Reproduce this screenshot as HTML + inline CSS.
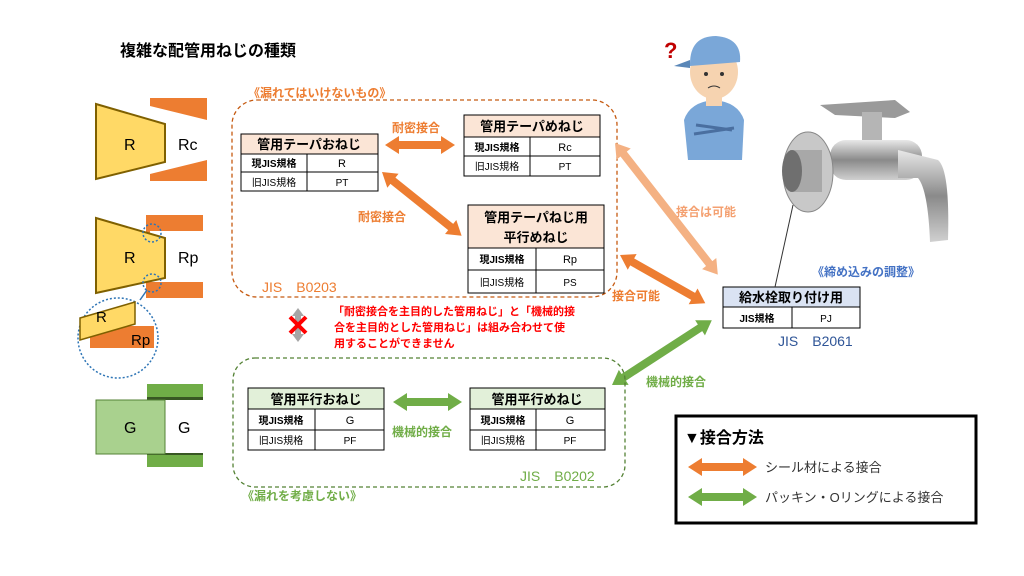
<!DOCTYPE html>
<html><head><meta charset="utf-8"><style>
body{margin:0;background:#fff;}
svg{display:block;font-family:"Liberation Sans","Noto Sans CJK JP",sans-serif;}
</style></head><body>
<svg width="1024" height="576" viewBox="0 0 1024 576" xmlns="http://www.w3.org/2000/svg">
<defs>
<polygon id="da" points="0,0 14,-9 14,-4 0,-4 0,4 14,4 14,9"/>
<linearGradient id="metal" x1="0" y1="0" x2="0" y2="1"><stop offset="0" stop-color="#e8e8e8"/><stop offset="0.5" stop-color="#8a8a8a"/><stop offset="1" stop-color="#d0d0d0"/></linearGradient>
</defs>
<rect width="1024" height="576" fill="#fff"/>
<text x="120" y="56" font-size="16" font-weight="bold" fill="#000">複雑な配管用ねじの種類</text>

<!-- Left: R / Rc -->
<rect x="150" y="98" width="57" height="83" fill="#ED7D31"/>
<polygon points="150,106 207,120 207,160 150,174" fill="#fff"/>
<polygon points="96,104 165,124 165,162 96,179" fill="#FFD966" stroke="#7F6000" stroke-width="2"/>
<text x="124" y="150" font-size="16">R</text>
<text x="178" y="150" font-size="16">Rc</text>
<!-- R / Rp -->
<rect x="146" y="215" width="57" height="83" fill="#ED7D31"/>
<rect x="150" y="231" width="53" height="51" fill="#fff"/>
<polygon points="96,218 165,238 165,278 96,293" fill="#FFD966" stroke="#7F6000" stroke-width="2"/>
<text x="124" y="263" font-size="16">R</text>
<text x="178" y="263" font-size="16">Rp</text>
<circle cx="152" cy="233" r="9" fill="none" stroke="#2E75B6" stroke-width="1.5" stroke-dasharray="2,2"/>
<circle cx="152" cy="283" r="9" fill="none" stroke="#2E75B6" stroke-width="1.5" stroke-dasharray="2,2"/>
<line x1="147" y1="290" x2="140" y2="300" stroke="#2E75B6" stroke-width="1.5"/>
<circle cx="118" cy="338" r="40" fill="#fff" stroke="#2E75B6" stroke-width="1.5" stroke-dasharray="2,2"/>
<rect x="90" y="326" width="64" height="22" fill="#ED7D31"/>
<polygon points="80,318 135,302 135,324 80,340" fill="#FFD966" stroke="#7F6000" stroke-width="1.5"/>
<text x="96" y="322" font-size="15">R</text>
<text x="131" y="345" font-size="15">Rp</text>
<!-- G -->
<rect x="147" y="384" width="56" height="83" fill="#70AD47"/>
<rect x="147" y="397" width="56" height="58" fill="#385723"/>
<rect x="165" y="400" width="38" height="53" fill="#fff"/>
<rect x="96" y="400" width="69" height="54" fill="#A9D18E" stroke="#548235" stroke-width="1"/>
<text x="124" y="433" font-size="16">G</text>
<text x="178" y="433" font-size="16">G</text>

<!-- Orange dashed box -->
<rect x="232" y="100" width="385" height="197" rx="25" fill="none" stroke="#C55A11" stroke-width="1.3" stroke-dasharray="4,3"/>
<text x="248" y="97" font-size="12" font-weight="bold" fill="#ED7D31">《漏れてはいけないもの》</text>
<text x="262" y="292" font-size="14" fill="#ED7D31">JIS　B0203</text>

<!-- table1 -->
<g font-size="11" text-anchor="middle">
<rect x="241" y="134" width="137" height="20" fill="#FBE5D6" stroke="#000"/>
<text x="309" y="149" font-size="13" font-weight="bold">管用テーパおねじ</text>
<rect x="241" y="154" width="137" height="37" fill="#fff" stroke="#000"/>
<line x1="241" y1="172" x2="378" y2="172" stroke="#000"/><line x1="307" y1="154" x2="307" y2="191" stroke="#000"/>
<text x="274" y="167" font-weight="bold" font-size="10">現JIS規格</text><text x="342" y="167">R</text>
<text x="274" y="186" font-size="10">旧JIS規格</text><text x="342" y="186" font-size="10">PT</text>

<rect x="464" y="115" width="136" height="22" fill="#FBE5D6" stroke="#000"/>
<text x="532" y="131" font-size="13" font-weight="bold">管用テーパめねじ</text>
<rect x="464" y="137" width="136" height="39" fill="#fff" stroke="#000"/>
<line x1="464" y1="156" x2="600" y2="156" stroke="#000"/><line x1="530" y1="137" x2="530" y2="176" stroke="#000"/>
<text x="497" y="151" font-weight="bold" font-size="10">現JIS規格</text><text x="565" y="151">Rc</text>
<text x="497" y="170" font-size="10">旧JIS規格</text><text x="565" y="170" font-size="10">PT</text>

<rect x="468" y="205" width="136" height="43" fill="#FBE5D6" stroke="#000"/>
<text x="536" y="222" font-size="13" font-weight="bold">管用テーパねじ用</text>
<text x="536" y="242" font-size="13" font-weight="bold">平行めねじ</text>
<rect x="468" y="248" width="136" height="45" fill="#fff" stroke="#000"/>
<line x1="468" y1="270" x2="604" y2="270" stroke="#000"/><line x1="536" y1="248" x2="536" y2="293" stroke="#000"/>
<text x="502" y="263" font-weight="bold" font-size="10">現JIS規格</text><text x="570" y="263">Rp</text>
<text x="502" y="286" font-size="10">旧JIS規格</text><text x="570" y="286" font-size="10">PS</text>

<!-- green tables -->
<rect x="248" y="388" width="136" height="21" fill="#E2F0D9" stroke="#000"/>
<text x="316" y="404" font-size="13" font-weight="bold">管用平行おねじ</text>
<rect x="248" y="409" width="136" height="41" fill="#fff" stroke="#000"/>
<line x1="248" y1="430" x2="384" y2="430" stroke="#000"/><line x1="315" y1="409" x2="315" y2="450" stroke="#000"/>
<text x="281" y="424" font-weight="bold" font-size="10">現JIS規格</text><text x="350" y="424">G</text>
<text x="281" y="444" font-size="10">旧JIS規格</text><text x="350" y="444" font-size="10">PF</text>

<rect x="470" y="388" width="135" height="21" fill="#E2F0D9" stroke="#000"/>
<text x="537" y="404" font-size="13" font-weight="bold">管用平行めねじ</text>
<rect x="470" y="409" width="135" height="41" fill="#fff" stroke="#000"/>
<line x1="470" y1="430" x2="605" y2="430" stroke="#000"/><line x1="536" y1="409" x2="536" y2="450" stroke="#000"/>
<text x="503" y="424" font-weight="bold" font-size="10">現JIS規格</text><text x="570" y="424">G</text>
<text x="503" y="444" font-size="10">旧JIS規格</text><text x="570" y="444" font-size="10">PF</text>

<rect x="723" y="287" width="137" height="20" fill="#DAE3F3" stroke="#000"/>
<text x="791" y="302" font-size="13" font-weight="bold">給水栓取り付け用</text>
<rect x="723" y="307" width="137" height="21" fill="#fff" stroke="#000"/>
<line x1="792" y1="307" x2="792" y2="328" stroke="#000"/>
<text x="757" y="322" font-size="10" font-weight="bold">JIS規格</text><text x="826" y="322" font-size="10">PJ</text>
</g>

<!-- arrows -->
<g fill="#ED7D31">
<polygon transform="translate(385,145)" points="0,0 14,-9 14,-4 56,-4 56,-9 70,0 56,9 56,4 14,4 14,9"/>
<polygon transform="translate(382,172) rotate(38.7)" points="0,0 14,-9 14,-4 88,-4 88,-9 102,0 88,9 88,4 14,4 14,9"/>
<polygon transform="translate(620,255) rotate(29.5)" points="0,0 14,-9 14,-4 84,-4 84,-9 98,0 84,9 84,4 14,4 14,9"/>
</g>
<polygon fill="#F4B183" transform="translate(615,143) rotate(52)" points="0,0 14,-9 14,-4 153,-4 153,-9 167,0 153,9 153,4 14,4 14,9"/>
<g fill="#70AD47">
<polygon transform="translate(393,402)" points="0,0 14,-9 14,-4 55,-4 55,-9 69,0 55,9 55,4 14,4 14,9"/>
<polygon transform="translate(612,385) rotate(-33)" points="0,0 14,-9 14,-4 105,-4 105,-9 119,0 105,9 105,4 14,4 14,9"/>
</g>
<g font-size="12" font-weight="bold" fill="#ED7D31">
<text x="392" y="132">耐密接合</text>
<text x="358" y="221">耐密接合</text>
<text x="612" y="300">接合可能</text>
<text x="676" y="216" fill="#F4A070">接合は可能</text>
</g>
<text x="392" y="436" font-size="12" font-weight="bold" fill="#70AD47">機械的接合</text>
<text x="646" y="386" font-size="12" font-weight="bold" fill="#70AD47">機械的接合</text>

<!-- red X -->
<polygon points="298,308 304,316 301,316 301,334 304,334 298,342 292,334 295,334 295,316 292,316" fill="#A6A6A6"/>
<path d="M290,317 L306,333 M306,317 L290,333" stroke="#FF0000" stroke-width="4"/>
<g font-size="11" font-weight="bold" fill="#FF0000">
<text x="333" y="315">「耐密接合を主目的した管用ねじ」と「機械的接</text>
<text x="334" y="331">合を主目的とした管用ねじ」は組み合わせて使</text>
<text x="334" y="347">用することができません</text>
</g>

<!-- green dashed box -->
<rect x="233" y="358" width="392" height="129" rx="22" fill="none" stroke="#548235" stroke-width="1.3" stroke-dasharray="4,3"/>
<text x="520" y="481" font-size="14" fill="#70AD47">JIS　B0202</text>
<text x="242" y="500" font-size="12" font-weight="bold" fill="#70AD47">《漏れを考慮しない》</text>

<!-- person -->
<g>
<text x="664" y="58" font-size="22" font-weight="bold" fill="#C00000">?</text>
<path d="M688,160 L684,120 Q690,102 714,100 Q738,102 744,120 L742,160 Z" fill="#7AA7D8"/>
<rect x="706" y="92" width="16" height="14" fill="#F6D3B0"/>
<ellipse cx="714" cy="72" rx="24" ry="27" fill="#F6D3B0"/>
<path d="M690,64 Q690,36 716,36 Q742,38 740,62 L690,66 Z" fill="#7AA7D8"/>
<path d="M690,60 L674,66 L690,68 Z" fill="#5A87B8"/>
<path d="M696,125 L732,130 M694,134 L734,128" stroke="#4A6FA0" stroke-width="3"/>
<circle cx="706" cy="74" r="2" fill="#333"/><circle cx="722" cy="74" r="2" fill="#333"/>
<path d="M708,88 Q714,84 720,88" stroke="#333" fill="none"/>
</g>
<!-- faucet -->
<g>
<path d="M820,105 L895,100 L910,112 L895,118 L835,115 Z" fill="#9a9a9a"/>
<rect x="862" y="112" width="20" height="30" fill="#b5b5b5"/>
<rect x="830" y="140" width="92" height="40" rx="16" fill="url(#metal)"/>
<path d="M898,150 L938,160 Q950,170 948,240 L930,242 Q928,190 918,178 L898,178 Z" fill="url(#metal)"/>
<ellipse cx="808" cy="172" rx="25" ry="40" fill="#c8c8c8" stroke="#888"/>
<rect x="790" y="150" width="32" height="42" fill="#a8a8a8"/>
<ellipse cx="792" cy="171" rx="10" ry="21" fill="#6f6f6f"/>
</g>
<line x1="775" y1="287" x2="793" y2="205" stroke="#333" stroke-width="1"/>
<text x="812" y="276" font-size="12" font-weight="bold" fill="#4472C4">《締め込みの調整》</text>
<text x="778" y="346" font-size="14" fill="#2F5597">JIS　B2061</text>

<!-- legend -->
<rect x="676" y="416" width="300" height="107" fill="#fff" stroke="#000" stroke-width="3"/>
<text x="684" y="443" font-size="16" font-weight="bold">▼接合方法</text>
<polygon fill="#ED7D31" transform="translate(688,467)" points="0,0 14,-9 14,-4 55,-4 55,-9 69,0 55,9 55,4 14,4 14,9"/>
<polygon fill="#70AD47" transform="translate(688,497)" points="0,0 14,-9 14,-4 55,-4 55,-9 69,0 55,9 55,4 14,4 14,9"/>
<text x="765" y="472" font-size="13" fill="#333">シール材による接合</text>
<text x="765" y="502" font-size="13" fill="#333">パッキン・Oリングによる接合</text>
</svg>
</body></html>
